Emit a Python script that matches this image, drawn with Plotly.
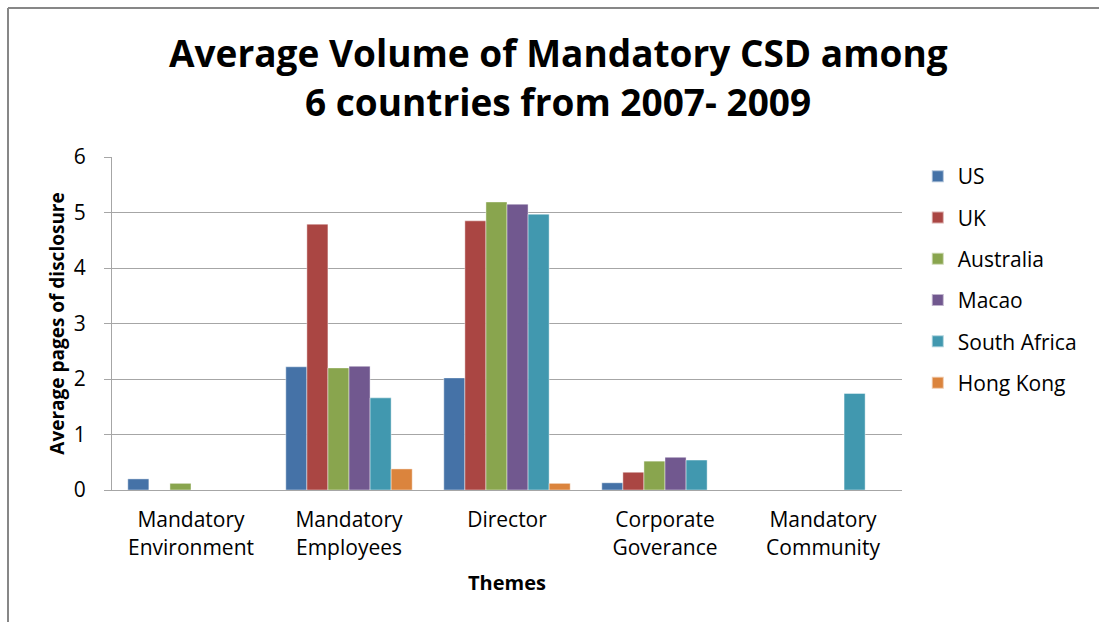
import plotly.graph_objects as go

# Themes (x categories), split over two lines as on the axis
themes = [
    "Mandatory<br>Environment",
    "Mandatory<br>Employees",
    "Director",
    "Corporate<br>Goverance",
    "Mandatory<br>Community",
]

countries = ["US", "UK", "Australia", "Macao", "South Africa", "Hong Kong"]

# Average pages of disclosure per theme, one list per country
us = [0.20, 2.22, 2.02, 0.13, 0.0]
uk = [0.0, 4.79, 4.85, 0.32, 0.0]
australia = [0.12, 2.20, 5.19, 0.52, 0.0]
macao = [0.0, 2.23, 5.15, 0.59, 0.0]
south_africa = [0.0, 1.66, 4.97, 0.54, 1.74]
hong_kong = [0.0, 0.38, 0.12, 0.0, 0.0]

series = [us, uk, australia, macao, south_africa, hong_kong]
colors = ["#4572A7", "#AA4643", "#89A54E", "#71588F", "#4198AF", "#DB843D"]

FONT = "Open Sans"
GRID = "#A6A6A6"

fig = go.Figure()
for name, vals, col in zip(countries, series, colors):
    fig.add_trace(
        go.Bar(
            x=themes,
            y=vals,
            name=name,
            legendgroup=name,
            marker=dict(color=col, line=dict(color="rgba(255,255,255,0.55)", width=0.8)),
        )
    )

fig.update_layout(
    width=1099,
    height=622,
    margin=dict(l=112, r=197, t=157, b=132),
    paper_bgcolor="white",
    plot_bgcolor="white",
    barmode="group",
    bargap=0.2,
    bargroupgap=0,
    font=dict(family=FONT, size=19, color="#000000"),
    showlegend=True,
    legend=dict(
        x=1.02,
        y=1.003,
        xanchor="left",
        yanchor="top",
        font=dict(family=FONT, size=21, color="#000000"),
        tracegroupgap=11,
        itemsizing="constant",
        bgcolor="rgba(0,0,0,0)",
    ),
    xaxis=dict(
        showgrid=False,
        showline=True,
        linecolor=GRID,
        linewidth=1,
        ticks="",
        ticklabelstandoff=11,
        tickfont=dict(family=FONT, size=21, color="#000000"),
        title=dict(
            text="<b>Themes</b>",
            font=dict(family=FONT, size=20, color="#000000"),
            standoff=16,
        ),
    ),
    yaxis=dict(
        range=[0, 6],
        dtick=1,
        showgrid=True,
        gridcolor=GRID,
        gridwidth=1,
        showline=True,
        linecolor=GRID,
        linewidth=1,
        ticks="outside",
        ticklen=7,
        tickcolor=GRID,
        zeroline=False,
        ticklabelstandoff=14,
        tickfont=dict(family=FONT, size=21, color="#000000"),
        title=dict(
            text="<b>Average pages of disclosure</b>",
            font=dict(family=FONT, size=19, color="#000000"),
            standoff=4,
        ),
    ),
)

# Chart title as two centred lines
fig.add_annotation(
    text="<b>Average Volume of Mandatory CSD among</b>",
    xref="paper", yref="paper",
    x=(558 - 112) / 790, y=(490 - 52) / 333.3,
    xanchor="center", yanchor="middle",
    showarrow=False,
    font=dict(family=FONT, size=37, color="#000000"),
)
fig.add_annotation(
    text="<b>6 countries from 2007- 2009</b>",
    xref="paper", yref="paper",
    x=(558 - 112) / 790, y=(490 - 101) / 333.3,
    xanchor="center", yanchor="middle",
    showarrow=False,
    font=dict(family=FONT, size=37, color="#000000"),
)

# Outer chart frame (top and left edges)
left_x = (8 - 112) / 790
top_y = (490 - 7.5) / 333.3
fig.add_shape(type="line", xref="paper", yref="paper",
              x0=left_x, y0=top_y, x1=1.5, y1=top_y,
              line=dict(color="#878787", width=2))
fig.add_shape(type="line", xref="paper", yref="paper",
              x0=left_x, y0=-0.6, x1=left_x, y1=top_y,
              line=dict(color="#878787", width=2))

fig.write_html("out.html")
